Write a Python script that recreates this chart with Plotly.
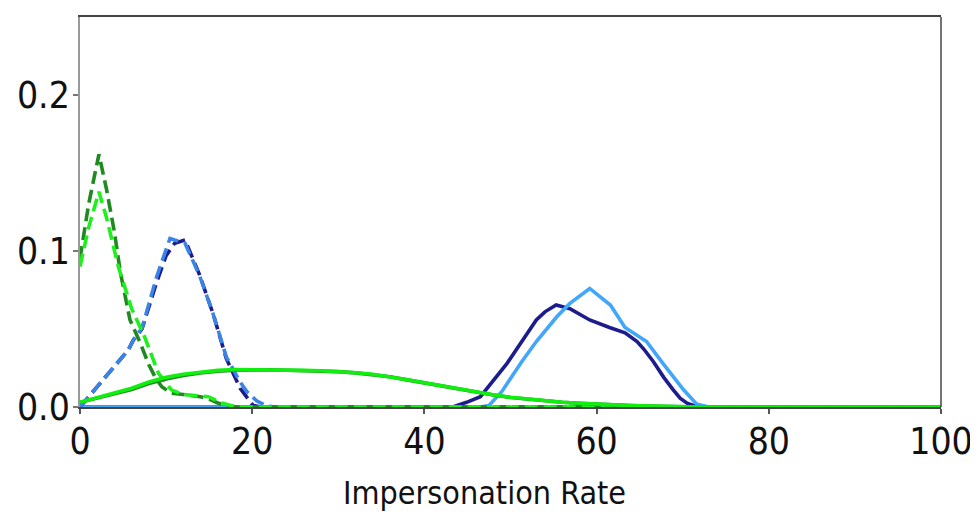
import plotly.graph_objects as go

# ---- data ----
dg_dash_x = [0, 1, 2.2, 3.1, 4, 4.7, 5.8, 7, 8, 8.7, 9.5, 10.6, 12, 14, 15, 16, 17, 18, 100]
dg_dash_y = [0.095, 0.13, 0.162, 0.139, 0.112, 0.086, 0.056, 0.041, 0.027, 0.0194, 0.013, 0.0088, 0.008, 0.0066, 0.005, 0.0026, 0.001, 0, 0]

lg_dash_x = [0, 1, 2.2, 3.1, 4.45, 6, 7.5, 9.1, 10.6, 12, 14.9, 16.5, 17.5, 18.5, 100]
lg_dash_y = [0.09, 0.115, 0.138, 0.121, 0.09, 0.063, 0.045, 0.0218, 0.011, 0.008, 0.0066, 0.0026, 0.001, 0, 0]

db_dash_x = [0, 3.3, 5.6, 6.2, 7.2, 8.9, 10, 11, 12.2, 13.9, 15.5, 17.0, 18.6, 20.1, 21, 100]
db_dash_y = [0, 0.0217, 0.0365, 0.043, 0.050, 0.080, 0.097, 0.105, 0.107, 0.0846, 0.059, 0.031, 0.012, 0.001, 0, 0]

lb_dash_x = [0, 3.3, 5.6, 6.2, 7.2, 8.9, 10.45, 11, 12.2, 13.9, 15.5, 17.0, 18.6, 19.4, 20.5, 21.5, 22.5, 100]
lb_dash_y = [0, 0.0217, 0.0365, 0.043, 0.0506, 0.0835, 0.108, 0.107, 0.105, 0.084, 0.059, 0.032, 0.016, 0.0098, 0.004, 0.0012, 0, 0]

lg_solid_x = [0, 2, 4, 6, 8, 10, 12, 14, 16, 18, 20, 22, 24, 26, 28, 30, 32, 34, 36, 38, 40, 42, 44, 46, 48, 50, 52, 54, 56, 58, 60, 62, 64, 66, 68, 70, 72, 100]
lg_solid_y = [0.003, 0.006, 0.009, 0.012, 0.016, 0.019, 0.021, 0.0225, 0.0235, 0.024, 0.024, 0.024, 0.0238, 0.0235, 0.0232, 0.0228, 0.022, 0.021, 0.0195, 0.0175, 0.0155, 0.0135, 0.0115, 0.0095, 0.0078, 0.0062, 0.005, 0.004, 0.003, 0.0024, 0.0018, 0.0013, 0.0009, 0.0006, 0.0003, 0.0001, 0, 0]

dg_solid_x = [0, 2, 4, 6, 8, 10, 12, 14, 16, 18, 20, 22, 24, 26, 28, 30, 32, 34, 36, 38, 40, 42, 44, 46, 48, 50, 52, 54, 56, 58, 60, 62, 64, 66, 68, 70, 72, 100]
dg_solid_y = [0.003, 0.0055, 0.0085, 0.0112, 0.015, 0.018, 0.0202, 0.0218, 0.023, 0.0236, 0.0238, 0.0238, 0.0236, 0.0234, 0.0231, 0.0227, 0.0219, 0.0209, 0.0194, 0.0174, 0.0154, 0.0134, 0.0114, 0.0094, 0.0077, 0.0061, 0.0049, 0.0039, 0.003, 0.0024, 0.0018, 0.0013, 0.0009, 0.0006, 0.0003, 0.0001, 0, 0]

db_solid_x = [0, 43.3, 44.9, 46.5, 49.6, 53, 54, 55.3, 56.9, 59.2, 61.5, 63.3, 64.7, 65.5, 66.6, 67.8, 68.9, 69.7, 70.5, 71.5, 72.5, 100]
db_solid_y = [0, 0, 0.003, 0.0066, 0.028, 0.0558, 0.061, 0.0654, 0.063, 0.0558, 0.051, 0.0475, 0.042, 0.037, 0.029, 0.019, 0.011, 0.0056, 0.0025, 0.0005, 0, 0]

lb_solid_x = [0, 46.5, 47.5, 49, 51.3, 53, 55.4, 56.9, 59.2, 61.6, 63.3, 65.8, 67.7, 70.1, 71.6, 73, 100]
lb_solid_y = [0, 0, 0.001, 0.01, 0.029, 0.042, 0.058, 0.0664, 0.076, 0.0654, 0.051, 0.042, 0.028, 0.011, 0.002, 0, 0]

x_ticks = [0, 20, 40, 60, 80, 100]
y_ticks = [0.0, 0.1, 0.2]
x_title = "Impersonation Rate"

FONT = "DejaVu Sans Condensed, DejaVu Sans, sans-serif"
DASH = "13px,6px"
LW = 3.6

fig = go.Figure()

def add(x, y, color, dash=None):
    fig.add_trace(go.Scatter(x=x, y=y, mode="lines",
                             line=dict(color=color, width=LW, dash=dash or "solid"),
                             showlegend=False, hoverinfo="skip"))

add(db_solid_x, db_solid_y, "#1c1c8c")
add(lb_solid_x, lb_solid_y, "#42a6fa")
add(db_dash_x, db_dash_y, "#1c1c8c", DASH)
add(lb_dash_x, lb_dash_y, "#3a84e6", DASH)
add(dg_dash_x, dg_dash_y, "#1f8a1f", DASH)
add(lg_dash_x, lg_dash_y, "#1ef01e", DASH)
add(dg_solid_x, dg_solid_y, "#1f8a1f")
add(lg_solid_x, lg_solid_y, "#10ee10")

fig.update_layout(
    width=970, height=510,
    margin=dict(l=72, r=37, t=9, b=111),
    plot_bgcolor="white", paper_bgcolor="white",
    font=dict(family=FONT, color="#111"),
    xaxis=dict(range=[0, 100], tickvals=x_ticks, ticks="outside", ticklen=5,
               tickcolor="#555", tickwidth=1.5, automargin=False,
               ticklabelstandoff=-4,
               showline=True, linecolor="#444", linewidth=1.5, mirror=True,
               showgrid=False, zeroline=False,
               tickfont=dict(size=37, family=FONT, color="#111")),
    yaxis=dict(range=[0, 0.25], tickvals=y_ticks, tickformat=".1f", ticks="outside", ticklen=5,
               tickcolor="#777", tickwidth=1.5, automargin=False,
               ticklabelstandoff=-4,
               showline=True, linecolor="#999", linewidth=1.5, mirror=False,
               showgrid=False, zeroline=False,
               tickfont=dict(size=37, family=FONT, color="#111")),
)
fig.add_shape(type="line", xref="paper", yref="paper", x0=1, x1=1, y0=0, y1=1,
              line=dict(color="#444", width=1.5))
fig.add_annotation(text=x_title, xref="paper", yref="paper", x=0.47, y=-0.22,
                   xanchor="center", yanchor="middle", showarrow=False,
                   font=dict(size=32, family=FONT, color="#111"))

fig.write_html("out.html")
